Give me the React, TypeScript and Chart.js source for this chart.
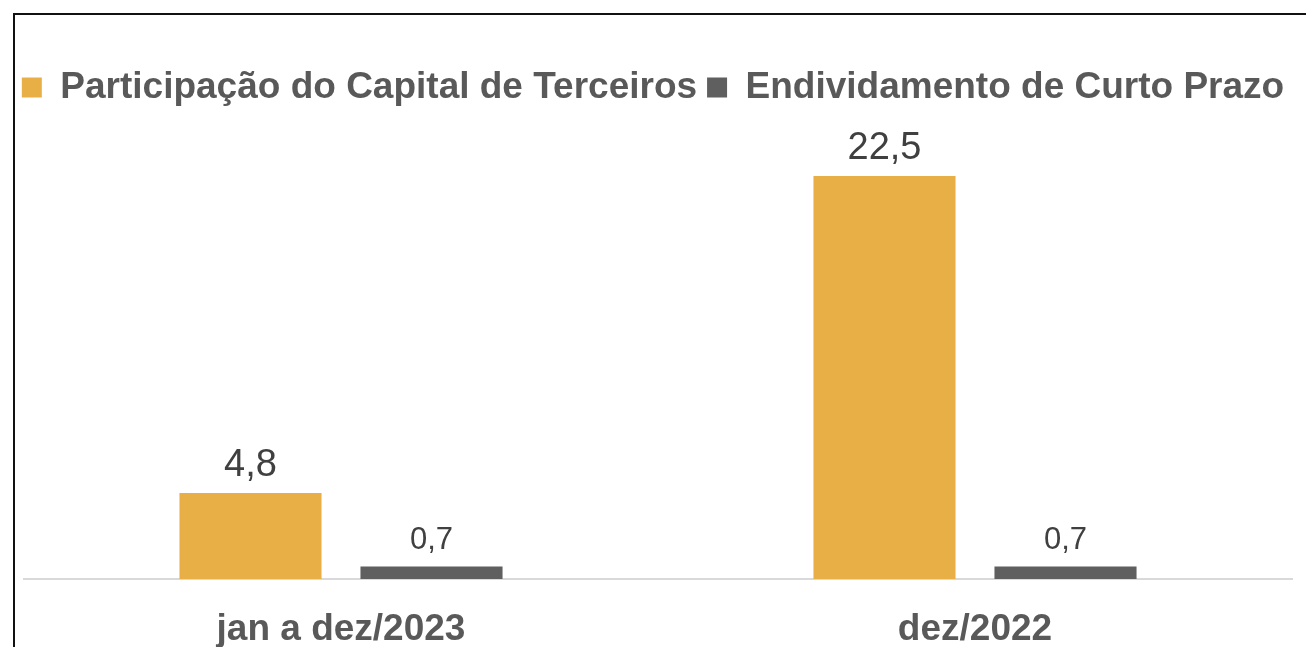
import React, { useEffect, useRef } from "react";
import { Chart, registerables } from "chart.js";

Chart.register(...registerables);

const categories = ["jan a dez/2023", "dez/2022"];
const seriesNames = ["Participação do Capital de Terceiros", "Endividamento de Curto Prazo"];
const participacao = [4.8, 22.5];
const endividamento = [0.7, 0.7];
const seriesColors = ["#E9AF47", "#5F5F5F"];
const labelFontSizes = [38, 31];

const FONT = "'Liberation Sans', Arial, sans-serif";

const frame = {
  id: "frame",
  beforeDraw(chart: any) {
    const ctx = chart.ctx;
    ctx.save();
    ctx.fillStyle = "#FFFFFF";
    ctx.fillRect(0, 0, chart.width, chart.height);
    ctx.strokeStyle = "#111111";
    ctx.lineWidth = 2;
    ctx.strokeRect(14, 14, chart.width + 50, chart.height + 50);
    ctx.restore();
  },
};

const valueLabels = {
  id: "valueLabels",
  afterDatasetsDraw(chart: any) {
    const ctx = chart.ctx;
    ctx.save();
    chart.data.datasets.forEach((ds: any, di: number) => {
      const meta = chart.getDatasetMeta(di);
      ctx.font = `normal ${labelFontSizes[di]}px ${FONT}`;
      ctx.fillStyle = "#404040";
      ctx.textAlign = "center";
      ctx.textBaseline = "alphabetic";
      meta.data.forEach((bar: any, i: number) => {
        const v = ds.data[i];
        const txt = v.toFixed(1).replace(".", ",");
        ctx.fillText(txt, bar.x, bar.y - 17);
      });
    });
    ctx.restore();
  },
};

export default function App() {
  const ref = useRef<HTMLCanvasElement | null>(null);
  useEffect(() => {
    if (!ref.current) return;
    const chart = new Chart(ref.current, {
      type: "bar",
      data: {
        labels: categories,
        datasets: [
          {
            label: seriesNames[0],
            data: participacao,
            backgroundColor: seriesColors[0],
            categoryPercentage: 0.571,
            barPercentage: 0.785,
          },
          {
            label: seriesNames[1],
            data: endividamento,
            backgroundColor: seriesColors[1],
            categoryPercentage: 0.571,
            barPercentage: 0.785,
          },
        ],
      },
      options: {
        animation: false,
        responsive: false,
        maintainAspectRatio: false,
        devicePixelRatio: 1,
        layout: { padding: { left: 0, right: 0, top: 59, bottom: 0 } },
        plugins: {
          legend: {
            position: "top",
            labels: {
              font: { family: FONT, size: 37, weight: "bold" },
              color: "#595959",
              boxWidth: 20,
              boxHeight: 20,
              padding: 10,
            },
          },
          tooltip: { enabled: false },
        },
        scales: {
          x: {
            grid: { display: false, drawTicks: false },
            border: { display: true, color: "#D9D9D9", width: 2 },
            ticks: {
              font: { family: FONT, size: 37, weight: "bold" },
              color: "#595959",
              padding: 29,
              maxRotation: 0,
            },
            afterFit: (s: any) => {
              s.height = 68;
            },
          },
          y: {
            display: true,
            position: "left",
            min: 0,
            max: 25.85,
            grid: { display: false, drawTicks: false },
            border: { display: false },
            ticks: { display: false },
            afterFit: (s: any) => {
              s.width = 24;
            },
          },
          y2: {
            display: true,
            position: "right",
            min: 0,
            max: 1,
            grid: { display: false, drawTicks: false },
            border: { display: false },
            ticks: { display: false },
            afterFit: (s: any) => {
              s.width = 14;
            },
          },
        },
      },
      plugins: [frame, valueLabels],
    });
    return () => chart.destroy();
  }, []);
  return (
    <div style={{ position: "fixed", left: 0, top: 0, width: 1306, height: 647, overflow: "hidden", background: "#fff" }}>
      <canvas ref={ref} width={1306} height={647} style={{ display: "block", width: 1306, height: 647 }} />
    </div>
  );
}
